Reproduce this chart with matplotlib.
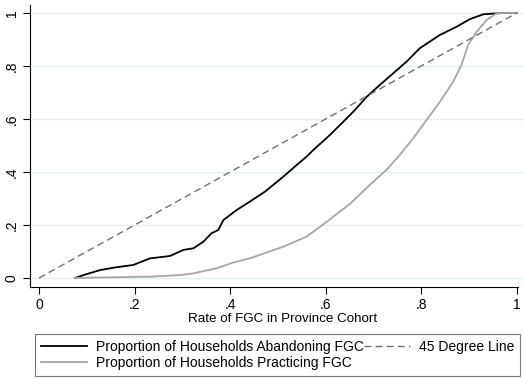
import matplotlib.pyplot as plt

plt.rcParams['font.family'] = ['Liberation Sans', 'DejaVu Sans']

# proportion of households abandoning FGC (black)
aband_x = [0.075, 0.10, 0.128, 0.16, 0.197, 0.232, 0.274, 0.302, 0.323, 0.344, 0.361,
           0.375, 0.386, 0.414, 0.441, 0.473, 0.511, 0.539, 0.56, 0.574, 0.609, 0.637,
           0.658, 0.686, 0.713, 0.741, 0.769, 0.797, 0.818, 0.839, 0.874, 0.902, 0.93,
           0.971, 1.0]
aband_y = [0.0, 0.015, 0.03, 0.04, 0.049, 0.074, 0.083, 0.106, 0.112, 0.137, 0.169,
           0.181, 0.219, 0.257, 0.288, 0.326, 0.382, 0.426, 0.458, 0.483, 0.54, 0.59,
           0.628, 0.684, 0.728, 0.772, 0.816, 0.867, 0.892, 0.917, 0.948, 0.977, 0.995,
           1.0, 1.0]

# proportion of households practicing FGC (gray)
pract_x = [0.075, 0.197, 0.232, 0.295, 0.322, 0.372, 0.406, 0.441, 0.511, 0.56, 0.602,
           0.651, 0.692, 0.727, 0.755, 0.783, 0.811, 0.839, 0.867, 0.884, 0.898, 0.916,
           0.937, 0.958, 0.971, 1.0]
pract_y = [0.0, 0.004, 0.005, 0.011, 0.017, 0.037, 0.058, 0.074, 0.118, 0.156, 0.212,
           0.28, 0.351, 0.408, 0.464, 0.527, 0.596, 0.665, 0.741, 0.804, 0.879, 0.929,
           0.974, 0.999, 1.0, 1.0]

diag = [0, 1]
ticks = [0, 0.2, 0.4, 0.6, 0.8, 1.0]
ticklabels = ['0', '.2', '.4', '.6', '.8', '1']

fig = plt.figure(figsize=(5.24, 3.79), dpi=100)
ax = fig.add_axes([30 / 524, 1 - 287 / 379, 494 / 524, 282 / 379])

l1, = ax.plot(aband_x, aband_y, color='black', lw=1.3, label='Proportion of Households Abandoning FGC')
l2, = ax.plot(pract_x, pract_y, color='#a6a6a6', lw=1.3, label='Proportion of Households Practicing FGC')
l3, = ax.plot(diag, diag, color='#707070', lw=1.0, ls=(0, (5, 3)), label='45 Degree Line')

ax.set_xlim(-0.019, 1.015)
ax.set_ylim(-0.034, 1.030)
ax.set_xticks(ticks)
ax.set_xticklabels(ticklabels)
ax.set_yticks(ticks)
ax.set_yticklabels(ticklabels, rotation=90, va='center')
ax.tick_params(labelsize=10, length=5, width=0.8, pad=3)
ax.grid(axis='y', color='#e6eff0', lw=1)
ax.set_axisbelow(True)
for s in ['top', 'right']:
    ax.spines[s].set_visible(False)
ax.spines['bottom'].set_bounds(-0.019, 1.002)
ax.set_xlabel('Rate of FGC in Province Cohort', fontsize=9.6)
ax.xaxis.set_label_coords(0.511, -0.093)

leg = fig.legend(handles=[l1, l2, l3], ncol=2, loc='upper left',
                 bbox_to_anchor=(35 / 524, 1 - 334 / 379), fontsize=10,
                 frameon=True, fancybox=False, edgecolor='#555555',
                 handlelength=3.3, columnspacing=0.0, handletextpad=0.65,
                 borderpad=0.45, labelspacing=0.1, borderaxespad=0)
leg.get_frame().set_linewidth(0.8)

fig.savefig('out.png', dpi=100)
